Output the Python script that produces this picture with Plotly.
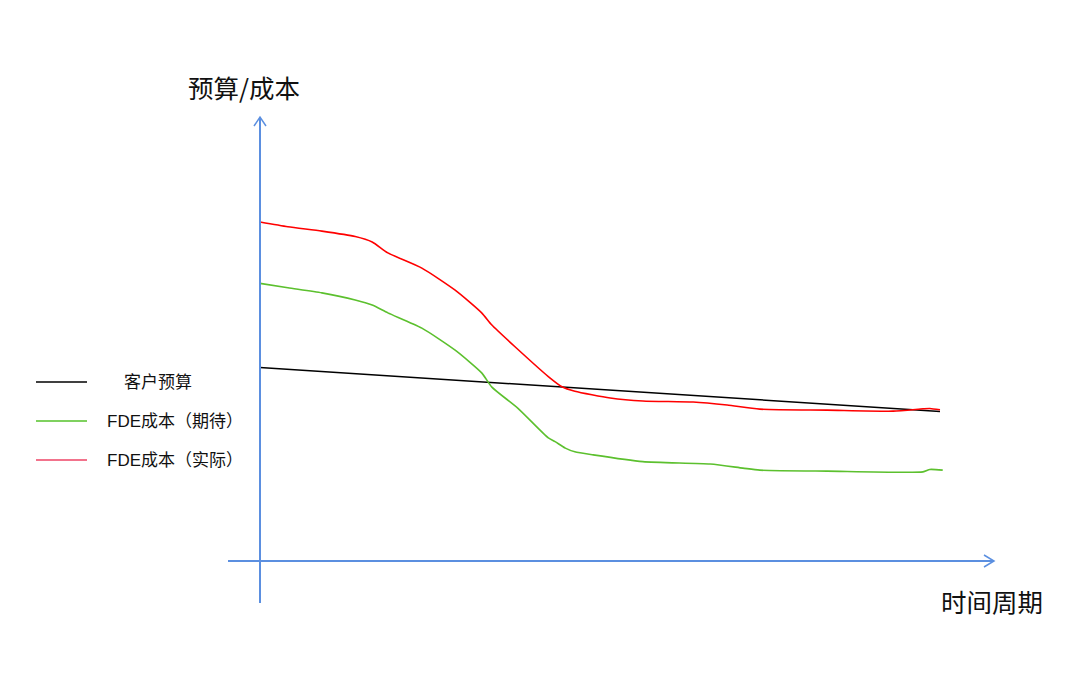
import plotly.graph_objects as go

# ---- data ----
t_budget = [0, 100]
budget = [57.1, 44.1]

t_expected = [0, 4.1, 9.1, 14.0, 16.5, 18.8, 23.8, 28.7, 32.6, 34.1, 37.9, 42.4, 43.4, 44.9,
              46.3, 49.0, 56.3, 66.2, 71.0, 73.5, 83.4, 97.5, 98.5, 100.4]
expected = [81.9, 80.6, 79.1, 77.0, 75.5, 73.2, 68.7, 62.2, 55.5, 51.3, 45.1, 36.3, 35.2, 33.3,
            32.2, 31.3, 29.3, 28.6, 27.4, 26.8, 26.5, 26.3, 27.0, 26.8]

t_actual = [0, 4.1, 9.1, 14.0, 16.5, 18.8, 23.8, 28.7, 32.6, 34.1, 37.5, 42.4, 44.4, 46.3,
            51.5, 56.3, 63.7, 68.7, 73.5, 83.4, 93.1, 97.5, 98.5, 100]
actual = [100.0, 98.6, 97.3, 95.7, 94.1, 90.9, 86.4, 79.9, 73.2, 69.6, 63.2, 54.4, 51.4, 50.1,
          48.1, 47.2, 46.9, 46.0, 44.8, 44.5, 44.2, 44.9, 45.0, 44.6]

legend_labels = ["客户预算", "FDE成本（期待）", "FDE成本（实际）"]
legend_colors = ["#000000", "#55C22A", "#EE4466"]
y_title = "预算/成本"
x_title = "时间周期"

PAGE_W, PAGE_H = 1080, 675
OFF = 8  # default page margin around the figure
W, H = PAGE_W - 2 * OFF, PAGE_H - 2 * OFF
FONT = "Liberation Sans, Noto Sans CJK SC, sans-serif"
CJK = "Noto Sans CJK SC, sans-serif"
AXIS_BLUE = "#5B8FE0"

# pixel -> data mapping of the reference (x: 0 at 260px, 6.8 px/unit; y: 0 at 561px, 3.39 px/unit)
X0PX, XS = 260, 6.8
Y0PX, YS = 561, 3.39
x_range = [(OFF - X0PX) / XS, (OFF + W - X0PX) / XS]
y_range = [(Y0PX - (OFF + H)) / YS, (Y0PX - OFF) / YS]

fig = go.Figure()
fig.add_trace(go.Scatter(x=t_budget, y=budget, mode="lines",
                         line=dict(color="#000000", width=1.5), showlegend=False))
fig.add_trace(go.Scatter(x=t_expected, y=expected, mode="lines",
                         line=dict(color="#5CC02E", width=1.6, shape="spline", smoothing=0.6),
                         showlegend=False))
fig.add_trace(go.Scatter(x=t_actual, y=actual, mode="lines",
                         line=dict(color="#FF0000", width=1.6, shape="spline", smoothing=0.6),
                         showlegend=False))

def px(x):
    return (x - OFF) / W

def py(y):
    return 1 - (y - OFF) / H

shapes = []
# y axis with arrow
shapes.append(dict(type="line", xref="paper", yref="paper", x0=px(260), x1=px(260),
                   y0=py(603), y1=py(118), line=dict(color=AXIS_BLUE, width=2)))
shapes.append(dict(type="path", xref="paper", yref="paper",
                   path=f"M {px(254)} {py(126)} L {px(260)} {py(117)} L {px(266)} {py(126)}",
                   line=dict(color=AXIS_BLUE, width=1.5)))
# x axis with arrow
shapes.append(dict(type="line", xref="paper", yref="paper", x0=px(228), x1=px(994),
                   y0=py(561), y1=py(561), line=dict(color=AXIS_BLUE, width=2)))
shapes.append(dict(type="path", xref="paper", yref="paper",
                   path=f"M {px(984)} {py(555)} L {px(994)} {py(561)} L {px(984)} {py(567)}",
                   line=dict(color=AXIS_BLUE, width=1.5)))

annotations = []
legend_y = [382, 421, 460]
legend_tx = [122, 105, 105]
for lab, col, ly, tx in zip(legend_labels, legend_colors, legend_y, legend_tx):
    shapes.append(dict(type="line", xref="paper", yref="paper", x0=px(36), x1=px(87),
                       y0=py(ly), y1=py(ly), line=dict(color=col, width=1.5)))
    annotations.append(dict(text=lab, xref="paper", yref="paper", x=px(tx), y=py(ly),
                            xanchor="left", yanchor="middle", showarrow=False,
                            font=dict(family=FONT, size=17, color="#111111")))

annotations.append(dict(text=y_title, xref="paper", yref="paper", x=px(186), y=py(87),
                        xanchor="left", yanchor="middle", showarrow=False,
                        font=dict(family=CJK, size=25.5, color="#111111")))
annotations.append(dict(text=x_title, xref="paper", yref="paper", x=px(939), y=py(600),
                        xanchor="left", yanchor="middle", showarrow=False,
                        font=dict(family=CJK, size=25.5, color="#111111")))

fig.update_layout(
    width=W, height=H,
    margin=dict(l=0, r=0, t=0, b=0),
    paper_bgcolor="white", plot_bgcolor="white",
    xaxis=dict(range=x_range, visible=False, fixedrange=True),
    yaxis=dict(range=y_range, visible=False, fixedrange=True),
    shapes=shapes, annotations=annotations,
    font=dict(family=FONT),
)

fig.write_html("out.html")
